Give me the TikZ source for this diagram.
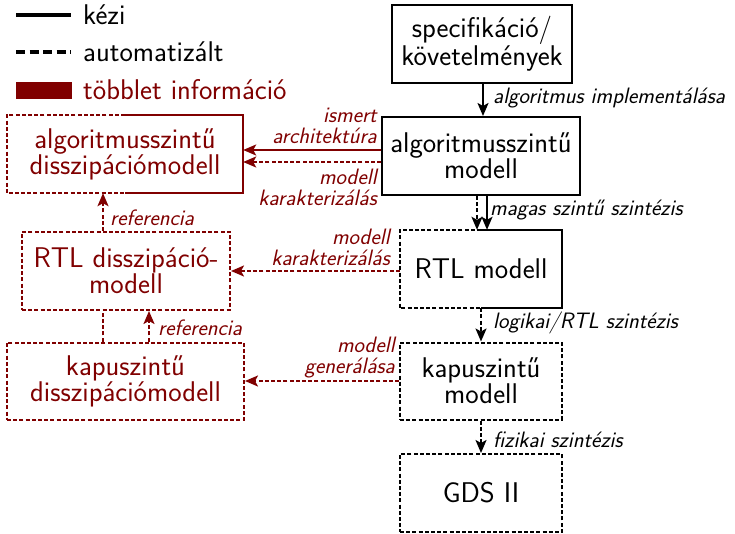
\documentclass[tikz,border=0pt]{standalone}
\usetikzlibrary{arrows.meta,calc}
\definecolor{dred}{HTML}{800000}
\newcommand\bxfont{\sffamily\fontsize{28.5}{26}\selectfont}
\newcommand\lbfont{\sffamily\itshape\fontsize{22.3}{21}\selectfont}
\begin{document}
\begin{tikzpicture}[x=1pt,y=-1pt,
  box/.style={minimum width=#1, inner sep=0pt, minimum height=78pt, font=\bxfont, align=center},
  box/.default=162pt,
  ln/.style={line width=2pt},
  dsh/.style={ln, dash pattern=on 4pt off 2.2pt},
  tip/.style={-{Stealth[length=13pt,width=11pt,inset=3pt]}},
  lbl/.style={font=\lbfont, inner sep=0pt},
  rlbl/.style={lbl, text=dred, align=right, anchor=east},
  leg/.style={font=\bxfont, inner sep=0pt, anchor=west}]
\useasboundingbox (0,0) rectangle (735,534);

% legend
\coordinate (l1a) at (16,15); \coordinate (l1b) at (71,15);
\draw[line width=3.2pt] (l1a) -- (l1b);
\node[leg] (lt1) at (83,15) {kézi};
\coordinate (l2a) at (16,52); \coordinate (l2b) at (71,52);
\draw[line width=3.2pt, dash pattern=on 9pt off 4.5pt] (l2a) -- (l2b);
\node[leg] (lt2) at (83,52) {automatizált};
\fill[dred] (16,82) rectangle (72,99);
\node[leg, text=dred] (lt3) at (83,90) {többlet információ};

% right column
\node[box=180pt, draw, ln] (spec) at (482,44) {specifikáció/\\követelmények};
\node[box=198pt, draw, ln] (algo) at (481,156) {algoritmusszintű\\modell};
\node[box] (rtl) at (481,269) {RTL modell};
\draw[dsh] (rtl.north) -| (rtl.west) |- (rtl.south);
\draw[ln] (rtl.north) -| (rtl.east) |- (rtl.south);
\node[box, draw, dsh, minimum height=77pt] (kapu) at (481,381) {kapuszintű\\modell};
\node[box, draw, dsh] (gds) at (481,493) {GDS II};

% left column
\node[box=236pt, text=dred] (adis) at (125,154) {algoritmusszintű\\disszipációmodell};
\draw[dsh, dred] (adis.north) -| (adis.west) |- (adis.south);
\draw[ln, dred] (adis.north) -| (adis.east) |- (adis.south);
\node[box=208pt, text=dred, draw=dred, dsh] (rdis) at (126,271) {RTL disszipáció-\\modell};
\node[box=237pt, text=dred, draw=dred, dsh, minimum height=77pt] (kdis) at (125.5,381) {kapuszintű\\disszipációmodell};

% black flow
\draw[ln, tip] (spec.south -| 483,0) -- (algo.north -| 483,0);
\node[lbl, anchor=west] (t1) at (493,98) {algoritmus implementálása};
\coordinate (d1) at ($(algo.south)+(-4,0)$);
\coordinate (d2) at ($(algo.south)+(6,0)$);
\draw[dsh, tip] (d1) -- (d1 |- rtl.north);
\draw[ln, tip] (d2) -- (d2 |- rtl.north);
\node[lbl, anchor=west] (t2) at (490,210) {magas szintű szintézis};
\draw[dsh, tip] (rtl.south) -- (kapu.north);
\node[lbl, anchor=west] (t3) at (493,323) {logikai/RTL szintézis};
\draw[dsh, tip] (kapu.south) -- (gds.north);
\node[lbl, anchor=west] (t4) at (493,440) {fizikai szintézis};

% red connectors
\coordinate (r1) at ($(algo.west)+(0,-6)$);
\draw[ln, dred, tip] (r1) -- (r1 -| adis.east);
\node[rlbl] (t5) at (377,126) {ismert\\architektúra};
\coordinate (r2) at ($(algo.west)+(0,6)$);
\draw[dsh, dred, tip] (r2) -- (r2 -| adis.east);
\node[rlbl] (t6) at (377,187) {modell\\karakterizálás};
\coordinate (r3) at ($(rtl.west)+(0,2)$);
\draw[dsh, dred, tip] (r3) -- (r3 -| rdis.east);
\node[rlbl] (t7) at (390,247) {modell\\karakterizálás};
\draw[dsh, dred, tip] (kapu.west) -- (kapu.west -| kdis.east);
\node[rlbl] (t8) at (395,358) {modell\\generálása};

\coordinate (v1) at (103,0);
\draw[dsh, dred, tip] (rdis.north -| v1) -- (adis.south -| v1);
\node[lbl, text=dred, anchor=west] (t9) at (110,218) {referencia};
\draw[dsh, dred] (kdis.north -| v1) -- (rdis.south -| v1);
\coordinate (v2) at (149,0);
\draw[dsh, dred, tip] (kdis.north -| v2) -- (rdis.south -| v2);
\node[lbl, text=dred, anchor=west] (t10) at (158,328) {referencia};
\end{tikzpicture}
\end{document}
